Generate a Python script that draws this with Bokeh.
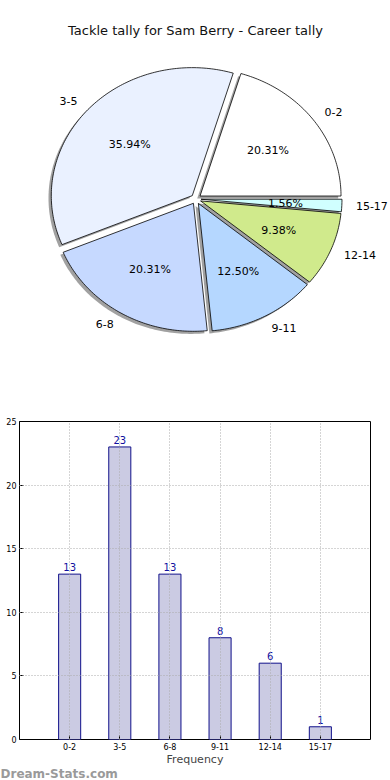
import numpy as np
from bokeh.plotting import figure
from bokeh.models import Range1d, ColumnDataSource, FixedTicker
from bokeh.core.properties import value
from bokeh.embed import file_html
from bokeh.resources import INLINE

# ---- data ----
title_text = "Tackle tally for Sam Berry - Career tally"
categories = ["0-2", "3-5", "6-8", "9-11", "12-14", "15-17"]
counts = [13, 23, 13, 8, 6, 1]
pie_colors = ["#ffffff", "#eaf1ff", "#c6d9ff", "#b5d7ff", "#d0ea8c", "#d0ffff"]
x_axis_label = "Frequency"
watermark = "Dream-Stats.com"
y_ticks = [0, 5, 10, 15, 20, 25]

FONT = "DejaVu Sans"
W = 390

# ---- pie figure (pixel-like coordinates, y downward) ----
PH = 400
pie = figure(width=W, height=PH, x_range=Range1d(0, W), y_range=Range1d(PH, 0),
             x_axis_location=None, y_axis_location=None,
             output_backend="svg", toolbar_location=None, min_border=0)
pie.grid.visible = False
pie.outline_line_color = None

cx, cy = 195.5, 198.5
rx, ry = 141.0, 128.0
explode = 5.0
shadow_dx, shadow_dy = -2.8, 2.6

total = float(sum(counts))
fracs = [c / total for c in counts]
starts = np.cumsum([0.0] + fracs[:-1]) * 360.0
ends = starts + np.array(fracs) * 360.0

wedge_xs, wedge_ys, sh_xs, sh_ys = [], [], [], []
pct_x, pct_y, pct_t = [], [], []
lab_l = dict(x=[], y=[], t=[])
lab_r = dict(x=[], y=[], t=[])
for cat, f, a0, a1 in zip(categories, fracs, starts, ends):
    mid = np.radians((a0 + a1) / 2.0)
    ox, oy = explode * np.cos(mid), -explode * np.sin(mid)
    n = max(4, int(abs(a1 - a0)))
    th = np.radians(np.linspace(a0, a1, n))
    xs = [cx + ox] + list(cx + ox + rx * np.cos(th)) + [cx + ox]
    ys = [cy + oy] + list(cy + oy - ry * np.sin(th)) + [cy + oy]
    wedge_xs.append(xs)
    wedge_ys.append(ys)
    sh_xs.append([v + shadow_dx for v in xs])
    sh_ys.append([v + shadow_dy for v in ys])
    pct_x.append(cx + ox + 0.6 * rx * np.cos(mid))
    pct_y.append(cy + oy - 0.6 * ry * np.sin(mid))
    pct_t.append("%.2f%%" % (f * 100))
    lx = cx + ox + 1.1 * rx * np.cos(mid)
    ly = cy + oy - 1.1 * ry * np.sin(mid)
    d = lab_l if np.cos(mid) >= 0 else lab_r
    d["x"].append(lx); d["y"].append(ly); d["t"].append(cat)

pie.patches(sh_xs, sh_ys, fill_color="#6e6e6e", fill_alpha=0.65, line_color=None)
pie.patches(wedge_xs, wedge_ys, fill_color=pie_colors, line_color="black", line_width=0.8)
pie.text(x=pct_x, y=pct_y, text=pct_t, text_align="center", text_baseline="middle",
         text_font=value(FONT), text_font_size="11px", text_color="black")
pie.text(x=lab_l["x"], y=lab_l["y"], text=lab_l["t"], text_align="left", text_baseline="middle",
         text_font=value(FONT), text_font_size="11px", text_color="black")
pie.text(x=lab_r["x"], y=lab_r["y"], text=lab_r["t"], text_align="right", text_baseline="middle",
         text_font=value(FONT), text_font_size="11px", text_color="black")
pie.text(x=[195], y=[30], text=[title_text], text_align="center", text_baseline="middle",
         text_font=value(FONT), text_font_size="13px", text_color="#111111")

# ---- bar figure ----
BH = 368
xpos = list(range(len(categories)))
src = ColumnDataSource(dict(x=xpos, top=counts, label=[str(c) for c in counts]))
bar = figure(width=W, height=BH, x_range=Range1d(-1, 6), y_range=Range1d(0, 25),
             output_backend="svg", toolbar_location=None,
             min_border_top=21, min_border_right=20, min_border_left=19, min_border_bottom=28)
bar.vbar(x="x", top="top", width=0.44, source=src, fill_color="#cbcbe3",
         line_color="#10108a", line_width=1)
bar.text(x="x", y="top", text="label", source=src, text_align="center", text_baseline="bottom",
         y_offset=-3, text_font=value(FONT), text_font_size="10px", text_color="#1010a0")

bar.xaxis.ticker = FixedTicker(ticks=xpos)
bar.xaxis.major_label_overrides = {i: c for i, c in enumerate(categories)}
bar.yaxis.ticker = FixedTicker(ticks=y_ticks)
for ax in (bar.xaxis, bar.yaxis):
    ax.axis_line_color = None
    ax.major_tick_in = 4
    ax.major_tick_out = 0
    ax.minor_tick_line_color = None
    ax.major_label_text_font_size = "8px"
    ax.major_label_text_font = FONT
    ax.major_label_text_color = "black"
    ax.major_label_standoff = 3
bar.xaxis.axis_label = x_axis_label
bar.xaxis.axis_label_text_font = FONT
bar.xaxis.axis_label_text_font_size = "11px"
bar.xaxis.axis_label_text_font_style = "normal"
bar.xaxis.axis_label_standoff = 0
bar.grid.grid_line_color = "#aaaaaa"
bar.grid.grid_line_dash = "1 2"
bar.grid.level = "annotation"
bar.xgrid.ticker = FixedTicker(ticks=xpos)
bar.ygrid.ticker = FixedTicker(ticks=y_ticks)
bar.outline_line_color = "black"
bar.outline_line_width = 1
bar.background_fill_color = "white"

# ---- watermark strip ----
WH = 12
wm = figure(width=W, height=WH, x_range=Range1d(0, W), y_range=Range1d(0, WH),
            x_axis_location=None, y_axis_location=None,
            output_backend="svg", toolbar_location=None, min_border=0)
wm.grid.visible = False
wm.outline_line_color = None
wm.text(x=[0], y=[WH / 2.0 + 1], text=[watermark], text_align="left", text_baseline="middle",
        text_font=value(FONT), text_font_size="12px", text_font_style="bold",
        text_color="#9a9a9a")

open("out.html", "w").write(file_html([pie, bar, wm], INLINE))
